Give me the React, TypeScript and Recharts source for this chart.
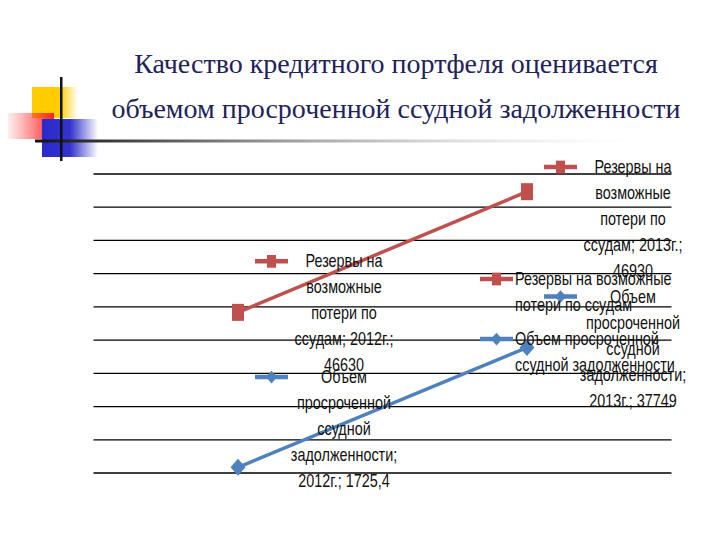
import React from 'react';
import { ComposedChart, Area, XAxis, YAxis, CartesianGrid, Legend, LabelList } from 'recharts';

// данные графика
const years = ['2012г.', '2013г.'];
const overdueValues = [1725.4, 37749];
const reserveValues = [46630, 46930];
const yTicks = [0, 10000, 20000, 30000, 40000, 50000, 60000, 70000, 80000, 90000];

const titleLines = [
  'Качество кредитного портфеля оценивается',
  'объемом просроченной ссудной задолженности',
];

const RED = '#C0504D';
const BLUE = '#4F81BD';
const LABEL_FONT = "'Liberation Sans', Arial, sans-serif";
const SQUEEZE = 0.8;

const fmt = (v: number) => String(v).replace('.', ',');

const reserveLabel = (cat: string, v: number) => ['Резервы на', 'возможные', 'потери по', `ссудам; ${cat};`, fmt(v)];
const overdueLabel = (cat: string, v: number) => ['Объем', 'просроченной', 'ссудной', 'задолженности;', `${cat}; ${fmt(v)}`];

const legendItems = [
  { key: 'reserves', color: RED, marker: 'square', lines: ['Резервы на возможные', 'потери по ссудам'] },
  { key: 'overdue', color: BLUE, marker: 'diamond', lines: ['Объем просроченной', 'ссудной задолженности'] },
];

const data = years.map((year, i) => ({ year, overdue: overdueValues[i], reserves: reserveValues[i] }));

const Marker = ({ kind, cx, cy, color, s = 1 }: { kind: string; cx: number; cy: number; color: string; s?: number }) => {
  if (kind === 'square') {
    return <rect x={cx - 6 * s} y={cy - 8.5 * s} width={12 * s} height={17 * s} fill={color} />;
  }
  const w = 7.5 * s;
  const h = 8.5 * s;
  return <polygon points={`${cx - w},${cy} ${cx},${cy - h} ${cx + w},${cy} ${cx},${cy + h}`} fill={color} />;
};

const Key = ({ x, y, color, kind }: { x: number; y: number; color: string; kind: string }) => (
  <g>
    <line x1={x} y1={y} x2={x + 33} y2={y} stroke={color} strokeWidth={4.5} />
    <Marker kind={kind} cx={x + 16.5} cy={y} color={color} s={0.75} />
  </g>
);

// узкий текст, как в исходном слайде
const NarrowText = ({ x, y, anchor, children }: { x: number; y: number; anchor: 'start' | 'middle'; children: string }) => (
  <g transform={`translate(${x},${y}) scale(${SQUEEZE},1)`}>
    <text x={0} y={0} textAnchor={anchor} fontFamily={LABEL_FONT} fontSize={18} fill="#111">
      {children}
    </text>
  </g>
);

const CHART_TOP = 153;
const CHART_BOTTOM = 493;
const LH = 26;

const makeLabel = (kind: string, color: string, build: (c: string, v: number) => string[], values: number[]) => (props: any) => {
  const { x, y, index } = props;
  const lines = build(years[index], values[index]);
  const half = (lines.length * LH) / 2;
  const center = Math.min(Math.max(y, CHART_TOP + half), CHART_BOTTOM - half);
  const first = center - ((lines.length - 1) / 2) * LH + 7;
  return (
    <g>
      <Key x={x + 17} y={first - 6} color={color} kind={kind} />
      {lines.map((t, i) => (
        <NarrowText key={i} x={x + 106} y={first + i * LH} anchor="middle">
          {t}
        </NarrowText>
      ))}
    </g>
  );
};

const renderLegend = () => (
  <svg width={220} height={125} style={{ overflow: 'visible' }}>
    {legendItems.map((item, i) => {
      const base = 20 + i * 60;
      return (
        <g key={item.key}>
          <Key x={0} y={base - 6} color={item.color} kind={item.marker} />
          {item.lines.map((t, j) => (
            <NarrowText key={j} x={35} y={base + j * 26} anchor="start">
              {t}
            </NarrowText>
          ))}
        </g>
      );
    })}
  </svg>
);

const Decor = () => (
  <svg width={720} height={170} style={{ position: 'absolute', left: 0, top: 0 }}>
    <defs>
      <linearGradient id="gy" x1="0" x2="1" y1="0" y2="0">
        <stop offset="0" stopColor="#FFCC00" />
        <stop offset="0.6" stopColor="#FFCC00" />
        <stop offset="1" stopColor="#FFCC00" stopOpacity="0" />
      </linearGradient>
      <linearGradient id="gr" x1="0" x2="1" y1="0" y2="0">
        <stop offset="0" stopColor="#FF5050" stopOpacity="0.1" />
        <stop offset="1" stopColor="#FF2020" />
      </linearGradient>
      <linearGradient id="gb" x1="0" x2="1" y1="0" y2="0">
        <stop offset="0" stopColor="#2A2ACC" />
        <stop offset="0.5" stopColor="#3333CC" />
        <stop offset="1" stopColor="#3333CC" stopOpacity="0" />
      </linearGradient>
      <linearGradient id="gl" x1="0" x2="1" y1="0" y2="0">
        <stop offset="0" stopColor="#111" />
        <stop offset="0.35" stopColor="#888" />
        <stop offset="1" stopColor="#ddd" stopOpacity="0" />
      </linearGradient>
    </defs>
    <rect x={32} y={87} width={46} height={31} fill="url(#gy)" />
    <rect x={8} y={113} width={46} height={26} fill="url(#gr)" />
    <rect x={42} y={119} width={56} height={38} fill="url(#gb)" />
    <rect x={35} y={139.5} width={600} height={3} fill="url(#gl)" />
    <rect x={60} y={77} width={2.5} height={84} fill="#111" />
  </svg>
);

export default function App() {
  return (
    <div style={{ position: 'absolute', left: 0, top: 0, width: 720, height: 540, background: '#fff', overflow: 'hidden' }}>
      <Decor />
      <div
        style={{
          position: 'absolute',
          left: 96,
          top: 41,
          width: 600,
          textAlign: 'center',
          fontFamily: "'Liberation Serif', 'Times New Roman', serif",
          fontSize: 28,
          lineHeight: '45px',
          color: '#22225A',
          whiteSpace: 'nowrap',
        }}
      >
        {titleLines.map((t) => (
          <div key={t}>{t}</div>
        ))}
      </div>
      <div style={{ position: 'absolute', left: 0, top: 0 }}>
        <ComposedChart width={720} height={540} data={data} margin={{ top: 174, right: 48.5, bottom: 67, left: 93.5 }}>
          <CartesianGrid vertical={false} stroke="#000" strokeWidth={1.3} />
          <XAxis dataKey="year" hide scale="band" />
          <YAxis hide domain={[0, 90000]} ticks={yTicks} />
          <Legend
            layout="vertical"
            align="center"
            verticalAlign="middle"
            content={renderLegend}
            wrapperStyle={{ left: 480, top: 265, width: 220, height: 125 }}
          />
          <Area
            type="linear"
            dataKey="overdue"
            stackId="s"
            stroke={BLUE}
            strokeWidth={3.5}
            fill="none"
            fillOpacity={0}
            activeDot={false}
            dot={(p: any) => <Marker key={`o${p.index}`} kind="diamond" cx={p.cx} cy={p.cy} color={BLUE} />}
            isAnimationActive={false}
          >
            <LabelList dataKey="overdue" content={makeLabel('diamond', BLUE, overdueLabel, overdueValues)} />
          </Area>
          <Area
            type="linear"
            dataKey="reserves"
            stackId="s"
            stroke={RED}
            strokeWidth={3.5}
            fill="none"
            fillOpacity={0}
            activeDot={false}
            dot={(p: any) => <Marker key={`r${p.index}`} kind="square" cx={p.cx} cy={p.cy} color={RED} />}
            isAnimationActive={false}
          >
            <LabelList dataKey="reserves" content={makeLabel('square', RED, reserveLabel, reserveValues)} />
          </Area>
        </ComposedChart>
      </div>
    </div>
  );
}
